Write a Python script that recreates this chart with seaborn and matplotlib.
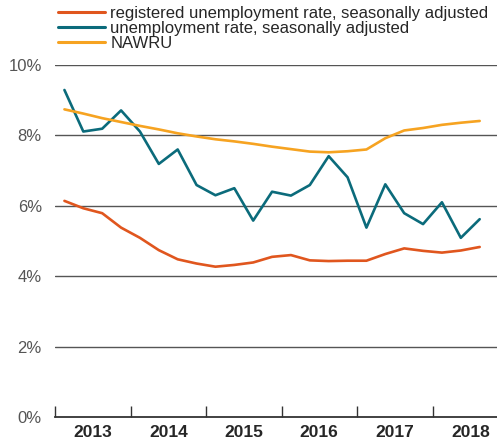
import matplotlib
matplotlib.use("Agg")
import matplotlib.pyplot as plt
import numpy as np
import pandas as pd
import seaborn as sns

# quarterly data, 2013Q1 .. 2018Q3
quarters = [f"{y}Q{q}" for y in range(2013, 2019) for q in range(1, 5)][:23]

registered = [6.14, 5.93, 5.79, 5.38, 5.09, 4.74, 4.48, 4.36, 4.27, 4.32,
              4.39, 4.55, 4.60, 4.45, 4.43, 4.44, 4.44, 4.63, 4.79, 4.72,
              4.67, 4.73, 4.83]
unemployment = [9.29, 8.11, 8.19, 8.71, 8.11, 7.19, 7.60, 6.59, 6.30, 6.50,
                5.58, 6.40, 6.29, 6.59, 7.41, 6.81, 5.38, 6.61, 5.79, 5.48,
                6.10, 5.09, 5.62]
nawru = [8.74, 8.62, 8.49, 8.38, 8.27, 8.17, 8.06, 7.97, 7.89, 7.83,
         7.76, 7.68, 7.61, 7.54, 7.52, 7.55, 7.60, 7.92, 8.14, 8.21,
         8.30, 8.36, 8.41]

years = ["2013", "2014", "2015", "2016", "2017", "2018"]
y_ticks = [0, 2, 4, 6, 8, 10]

labels = ["registered unemployment rate, seasonally adjusted",
          "unemployment rate, seasonally adjusted",
          "NAWRU"]
colors = ["#E0561E", "#0B6B7B", "#F6A321"]

df = pd.DataFrame({
    "q": np.arange(len(quarters)),
    labels[0]: registered,
    labels[1]: unemployment,
    labels[2]: nawru,
}).melt(id_vars="q", var_name="series", value_name="value")

sns.set_style("white")
plt.rcParams["font.family"] = ["Liberation Sans", "DejaVu Sans"]

fig = plt.figure(figsize=(4.97, 4.44), dpi=100)
ax = fig.add_axes([55 / 497, 27 / 444, 453 / 497, 352 / 444])

sns.lineplot(data=df, x="q", y="value", hue="series", hue_order=labels,
             palette=colors, linewidth=1.9, ax=ax, legend=False)

ax.set_xlim(-0.5, 23.5)
ax.set_ylim(0, 10)

# grid lines
for v in y_ticks[1:]:
    ax.axhline(v, color="#555555", linewidth=1.0, zorder=0)

ax.set_yticks(y_ticks)
ax.set_yticklabels([f"{v}%" for v in y_ticks], color="#555555", fontsize=12)
ax.tick_params(axis="y", left=False, length=0, pad=9.5)

# year boundaries as ticks, labels centered in each year
ax.set_xticks(np.arange(len(years)) * 4 - 0.5)
ax.set_xticklabels([])
ax.tick_params(axis="x", which="major", bottom=True, direction="in",
               length=8, width=1.0, color="#333333")
ax.set_xticks(np.arange(len(years)) * 4 + 1.5, minor=True)
ax.set_xticklabels(years, minor=True, fontweight="bold", fontsize=12.5)
ax.tick_params(axis="x", which="minor", bottom=True, length=0, pad=6)

for s in ["top", "right", "left"]:
    ax.spines[s].set_visible(False)
ax.spines["bottom"].set_color("#333333")
ax.spines["bottom"].set_linewidth(1.3)
ax.set_xlabel("")
ax.set_ylabel("")

handles = [plt.Line2D([], [], color=c, linewidth=2.2) for c in colors]
fig.legend(handles, labels, loc="upper left", bbox_to_anchor=(58 / 497, 1 - 6 / 444),
           frameon=False, fontsize=12, handlelength=2.8, handletextpad=0.35,
           labelspacing=0.0, borderaxespad=0, borderpad=0.0)

fig.savefig("out.png", dpi=100)
